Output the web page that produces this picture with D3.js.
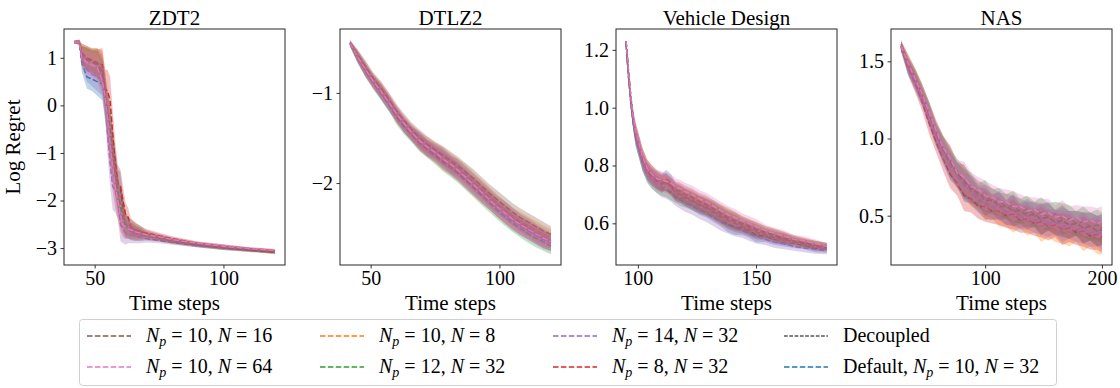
<!DOCTYPE html>
<html>
<head>
<meta charset="utf-8">
<script src="https://cdn.jsdelivr.net/npm/d3@7"></script>
<style>
  body { margin: 0; background: #fff; }
  svg { display: block; }
  text { font-family: "Liberation Serif", "Times New Roman", serif; fill: #000; }
</style>
</head>
<body>
<svg id="chart" width="1120" height="388"></svg>
<script>
// ---- series (drawing order) ----
const seriesLabels = ["Default, N_p=10, N=32", "N_p=10, N=8", "N_p=12, N=32", "N_p=8, N=32",
                      "N_p=14, N=32", "N_p=10, N=16", "N_p=10, N=64"];
const seriesColors = ["#1f77b4", "#ff7f0e", "#2ca02c", "#d62728", "#9467bd", "#8c564b", "#e377c2"];

// ---- ZDT2 ----
const zdt2Steps = [42,44,45,47,49,51,53,54,55,56,57,58,59,60,61,62,63,64,66,68,70,75,80,90,100,110,120];
const zdt2Band  = [0.03,0.05,0.2,0.25,0.25,0.3,0.35,0.4,0.45,0.5,0.5,0.45,0.4,0.35,0.3,0.25,0.2,0.18,0.15,0.12,0.08,0.06,0.05,0.04,0.04,0.03,0.03];
const zdt2Means = [
  [1.33,1.33,0.9,0.6,0.55,0.5,0.45,0.1,-0.2,-0.5,-1.0,-1.4,-1.75,-1.75,-2.2,-2.5,-2.6,-2.65,-2.7,-2.73,-2.76,-2.8,-2.86,-2.94,-3.0,-3.05,-3.09],
  [1.33,1.33,1.1,1.0,0.95,0.9,0.8,0.4,-0.3,-0.9,-1.3,-1.7,-2.0,-2.3,-2.45,-2.55,-2.6,-2.65,-2.7,-2.72,-2.75,-2.8,-2.86,-2.94,-3.0,-3.05,-3.1],
  [1.33,1.33,1.05,0.95,0.9,0.85,0.6,0.2,-0.3,-0.7,-1.1,-1.5,-1.9,-2.1,-2.3,-2.5,-2.55,-2.58,-2.62,-2.66,-2.7,-2.77,-2.83,-2.91,-2.97,-3.02,-3.06],
  [1.33,1.33,1.05,0.97,0.92,0.88,0.85,0.35,0.3,0.1,-0.6,-1.2,-1.65,-1.7,-2.0,-2.3,-2.35,-2.55,-2.62,-2.66,-2.68,-2.74,-2.8,-2.9,-2.96,-3.01,-3.05],
  [1.33,1.33,1.0,0.75,0.65,0.6,0.55,0.2,-0.6,-1.2,-1.7,-1.8,-2.0,-2.5,-2.6,-2.68,-2.7,-2.72,-2.75,-2.78,-2.8,-2.84,-2.88,-2.95,-3.0,-3.04,-3.08],
  [1.33,1.33,1.1,1.0,0.95,0.9,0.7,0.3,-0.1,-0.5,-1.0,-1.4,-1.8,-2.2,-2.4,-2.55,-2.6,-2.63,-2.67,-2.7,-2.73,-2.79,-2.85,-2.93,-2.99,-3.04,-3.09],
  [1.33,1.33,1.0,0.9,0.85,0.8,0.5,0.2,-0.3,-0.8,-1.3,-1.7,-2.0,-2.3,-2.5,-2.55,-2.6,-2.62,-2.66,-2.69,-2.72,-2.76,-2.82,-2.9,-2.96,-3.01,-3.05]
];
const zdt2XTicks = [50, 100];
const zdt2YTicks = [1, 0, -1, -2, -3];

// ---- DTLZ2 ----
const dtlz2Steps = [42,45,48,51,54,57,60,63,66,69,72,75,78,81,84,87,90,93,96,99,102,105,108,111,114,117,120];
const dtlz2Band  = [0.03,0.06,0.07,0.07,0.08,0.08,0.08,0.08,0.08,0.09,0.09,0.09,0.1,0.1,0.1,0.1,0.1,0.1,0.1,0.1,0.1,0.1,0.1,0.1,0.1,0.1,0.09];
const dtlz2Means = [
  [-0.45,-0.61,-0.75,-0.86,-0.99,-1.12,-1.23,-1.36,-1.45,-1.52,-1.61,-1.65,-1.71,-1.79,-1.84,-1.92,-2.0,-2.08,-2.16,-2.24,-2.3,-2.37,-2.44,-2.49,-2.55,-2.6,-2.64],
  [-0.45,-0.58,-0.72,-0.86,-0.96,-1.08,-1.22,-1.33,-1.43,-1.52,-1.58,-1.64,-1.7,-1.77,-1.83,-1.9,-1.98,-2.06,-2.14,-2.22,-2.3,-2.37,-2.42,-2.47,-2.52,-2.57,-2.6],
  [-0.46,-0.61,-0.76,-0.89,-1.0,-1.12,-1.27,-1.38,-1.47,-1.56,-1.63,-1.7,-1.77,-1.83,-1.9,-1.98,-2.06,-2.14,-2.22,-2.3,-2.37,-2.44,-2.5,-2.56,-2.61,-2.65,-2.7],
  [-0.45,-0.6,-0.75,-0.88,-0.98,-1.1,-1.25,-1.36,-1.46,-1.55,-1.62,-1.68,-1.75,-1.81,-1.88,-1.96,-2.04,-2.12,-2.19,-2.27,-2.34,-2.41,-2.47,-2.52,-2.57,-2.62,-2.66],
  [-0.45,-0.6,-0.74,-0.88,-0.99,-1.11,-1.24,-1.35,-1.45,-1.54,-1.61,-1.67,-1.73,-1.8,-1.87,-1.95,-2.03,-2.11,-2.19,-2.27,-2.35,-2.42,-2.48,-2.53,-2.58,-2.63,-2.67],
  [-0.44,-0.58,-0.71,-0.84,-0.95,-1.07,-1.2,-1.31,-1.41,-1.5,-1.57,-1.63,-1.69,-1.75,-1.81,-1.88,-1.95,-2.03,-2.11,-2.18,-2.25,-2.32,-2.38,-2.43,-2.48,-2.53,-2.57],
  [-0.45,-0.6,-0.74,-0.87,-0.98,-1.1,-1.23,-1.34,-1.44,-1.53,-1.6,-1.66,-1.73,-1.79,-1.86,-1.94,-2.02,-2.1,-2.18,-2.26,-2.33,-2.4,-2.46,-2.51,-2.56,-2.61,-2.65]
];
const dtlz2XTicks = [50, 100];
const dtlz2YTicks = [-1, -2];

// ---- Vehicle Design ----
const vehicleSteps = [95,96,97,98,99,100,102,104,106,108,110,112,114,116,118,120,123,126,129,132,135,138,141,144,147,150,154,158,162,166,170,175,180];
const vehicleBand  = [0.005,0.015,0.02,0.025,0.03,0.03,0.03,0.03,0.03,0.03,0.03,0.03,0.03,0.03,0.03,0.03,0.03,0.03,0.03,0.03,0.03,0.03,0.03,0.025,0.025,0.025,0.02,0.02,0.02,0.015,0.015,0.015,0.012];
const vehicleMeans = [
  [1.23,1.12,1.02,0.95,0.9,0.87,0.81,0.78,0.76,0.75,0.74,0.755,0.74,0.71,0.7,0.69,0.675,0.66,0.65,0.635,0.62,0.6,0.59,0.585,0.575,0.56,0.555,0.545,0.54,0.53,0.525,0.515,0.51],
  [1.23,1.13,1.04,0.97,0.92,0.89,0.83,0.79,0.77,0.75,0.74,0.735,0.725,0.71,0.705,0.695,0.685,0.67,0.66,0.65,0.635,0.625,0.61,0.6,0.59,0.58,0.57,0.56,0.55,0.54,0.535,0.525,0.52],
  [1.22,1.11,1.02,0.95,0.9,0.87,0.81,0.77,0.75,0.735,0.725,0.72,0.71,0.7,0.69,0.685,0.675,0.665,0.655,0.645,0.63,0.615,0.605,0.595,0.585,0.575,0.565,0.555,0.545,0.54,0.53,0.525,0.52],
  [1.23,1.12,1.03,0.96,0.91,0.88,0.82,0.78,0.76,0.745,0.735,0.745,0.725,0.705,0.7,0.69,0.68,0.665,0.655,0.64,0.625,0.61,0.6,0.59,0.58,0.57,0.56,0.55,0.545,0.535,0.53,0.52,0.515],
  [1.22,1.11,1.02,0.95,0.9,0.87,0.81,0.77,0.75,0.735,0.72,0.715,0.705,0.69,0.68,0.67,0.66,0.645,0.635,0.62,0.605,0.595,0.585,0.575,0.565,0.555,0.545,0.535,0.53,0.52,0.515,0.51,0.505],
  [1.23,1.13,1.04,0.97,0.92,0.89,0.83,0.79,0.77,0.755,0.745,0.74,0.73,0.715,0.71,0.7,0.69,0.675,0.665,0.65,0.635,0.62,0.61,0.6,0.59,0.58,0.57,0.56,0.55,0.545,0.535,0.525,0.52],
  [1.23,1.13,1.04,0.97,0.92,0.89,0.83,0.79,0.77,0.755,0.75,0.745,0.74,0.725,0.72,0.71,0.7,0.685,0.675,0.66,0.645,0.63,0.62,0.61,0.6,0.59,0.575,0.565,0.555,0.545,0.54,0.53,0.52]
];
const vehicleXTicks = [100, 150];
const vehicleYTicks = [0.6, 0.8, 1.0, 1.2];

// ---- NAS ----
const nasSteps = [28,34,40,46,52,58,64,70,76,82,88,94,100,106,112,118,124,130,136,142,148,154,160,166,172,178,184,190,196,200];
const nasBand  = [0.03,0.05,0.06,0.06,0.07,0.07,0.08,0.09,0.08,0.1,0.09,0.08,0.1,0.08,0.09,0.08,0.1,0.08,0.09,0.08,0.1,0.09,0.08,0.1,0.09,0.08,0.1,0.09,0.1,0.1];
const nasMeans = [
  [1.6,1.46,1.38,1.27,1.16,1.02,0.93,0.83,0.76,0.7,0.66,0.6,0.58,0.55,0.57,0.52,0.54,0.5,0.52,0.5,0.47,0.5,0.45,0.46,0.44,0.45,0.42,0.43,0.4,0.41],
  [1.6,1.5,1.4,1.3,1.17,1.05,0.94,0.86,0.76,0.73,0.65,0.62,0.57,0.56,0.52,0.51,0.49,0.5,0.46,0.47,0.43,0.45,0.41,0.42,0.39,0.41,0.37,0.39,0.35,0.35],
  [1.6,1.48,1.39,1.29,1.17,1.03,0.94,0.84,0.79,0.71,0.69,0.63,0.63,0.59,0.59,0.56,0.56,0.53,0.54,0.51,0.52,0.49,0.51,0.48,0.48,0.45,0.46,0.43,0.44,0.42],
  [1.59,1.46,1.36,1.24,1.1,0.98,0.87,0.77,0.71,0.63,0.61,0.56,0.56,0.53,0.53,0.5,0.51,0.47,0.48,0.45,0.46,0.43,0.44,0.41,0.42,0.39,0.4,0.37,0.38,0.36],
  [1.6,1.47,1.37,1.27,1.14,1.02,0.91,0.82,0.77,0.69,0.67,0.61,0.6,0.56,0.56,0.52,0.53,0.49,0.5,0.47,0.48,0.45,0.46,0.43,0.44,0.41,0.42,0.39,0.4,0.38],
  [1.61,1.49,1.39,1.29,1.16,1.04,0.93,0.86,0.77,0.73,0.67,0.65,0.6,0.6,0.56,0.56,0.53,0.53,0.5,0.51,0.48,0.49,0.46,0.47,0.44,0.45,0.42,0.43,0.4,0.41],
  [1.6,1.49,1.39,1.29,1.17,1.05,0.94,0.87,0.78,0.75,0.69,0.67,0.63,0.62,0.59,0.59,0.56,0.56,0.53,0.54,0.51,0.52,0.49,0.5,0.47,0.49,0.46,0.47,0.45,0.46]
];
const nasXTicks = [100, 200];
const nasYTicks = [0.5, 1.0, 1.5];

// ---- legend (column-major, four columns of two) ----
const legendLabels = ["N_p=10, N=16", "N_p=10, N=64", "N_p=10, N=8", "N_p=12, N=32",
                      "N_p=14, N=32", "N_p=8, N=32", "Decoupled", "Default, N_p=10, N=32"];
const legendColors = ["#8c564b", "#e377c2", "#ff7f0e", "#2ca02c", "#9467bd", "#d62728", "#000000", "#1f77b4"];

const panels = [
  { title: "ZDT2", steps: zdt2Steps, band: zdt2Band, means: zdt2Means, xTicks: zdt2XTicks, yTicks: zdt2YTicks, yFmt: d3.format("d") },
  { title: "DTLZ2", steps: dtlz2Steps, band: dtlz2Band, means: dtlz2Means, xTicks: dtlz2XTicks, yTicks: dtlz2YTicks, yFmt: d3.format("d") },
  { title: "Vehicle Design", steps: vehicleSteps, band: vehicleBand, means: vehicleMeans, xTicks: vehicleXTicks, yTicks: vehicleYTicks, yFmt: d3.format(".1f") },
  { title: "NAS", steps: nasSteps, band: nasBand, means: nasMeans, xTicks: nasXTicks, yTicks: nasYTicks, yFmt: d3.format(".1f") }
];

const svg = d3.select("#chart");
const panelLefts = [64, 340, 616, 891];
const panelW = 221, panelTop = 29, panelH = 236;
const minus = s => s.replace("-", "\u2212");

// pad a [min,max] extent by 5% on both sides
function padded(lo, hi) {
  const p = (hi - lo) * 0.05;
  return [lo - p, hi + p];
}

panels.forEach((p, pi) => {
  const left = panelLefts[pi];
  const g = svg.append("g").attr("transform", `translate(${left},${panelTop})`);

  let lo = Infinity, hi = -Infinity;
  p.means.forEach(m => m.forEach((v, i) => {
    lo = Math.min(lo, v - p.band[i]);
    hi = Math.max(hi, v + p.band[i]);
  }));
  const x = d3.scaleLinear().domain(padded(d3.min(p.steps), d3.max(p.steps))).range([0, panelW]);
  const y = d3.scaleLinear().domain(padded(lo, hi)).range([panelH, 0]);

  const clipId = "clip" + pi;
  g.append("clipPath").attr("id", clipId).append("rect").attr("width", panelW).attr("height", panelH);
  const plot = g.append("g").attr("clip-path", `url(#${clipId})`);

  p.means.forEach((m, si) => {
    const rows = p.steps.map((s, i) => ({ s, v: m[i], b: p.band[i] }));
    const area = d3.area().x(d => x(d.s)).y0(d => y(d.v - d.b)).y1(d => y(d.v + d.b));
    const line = d3.line().x(d => x(d.s)).y(d => y(d.v));
    plot.append("path").datum(rows).attr("d", area)
      .attr("fill", seriesColors[si]).attr("fill-opacity", 0.3).attr("stroke", "none");
    plot.append("path").datum(rows).attr("d", line)
      .attr("fill", "none").attr("stroke", seriesColors[si]).attr("stroke-width", 1.5)
      .attr("stroke-dasharray", "5.5,2.4");
  });

  // axes
  const xAxis = d3.axisBottom(x).tickValues(p.xTicks).tickSize(3.5).tickPadding(2.5).tickSizeOuter(0);
  const yAxis = d3.axisLeft(y).tickValues(p.yTicks).tickSize(3.5).tickPadding(3.5).tickSizeOuter(0)
    .tickFormat(v => minus(p.yFmt(v)));
  const gx = g.append("g").attr("transform", `translate(0,${panelH})`).call(xAxis);
  const gy = g.append("g").call(yAxis);
  [gx, gy].forEach(a => {
    a.select(".domain").remove();
    a.selectAll("line").attr("stroke", "#000").attr("stroke-width", 0.8);
    a.selectAll("text").attr("font-size", 20).attr("font-family", "Liberation Serif").attr("fill", "#000");
  });

  g.append("rect").attr("width", panelW).attr("height", panelH)
    .attr("fill", "none").attr("stroke", "#262626").attr("stroke-width", 1);

  g.append("text").attr("x", panelW / 2).attr("y", -4).attr("text-anchor", "middle")
    .attr("font-size", 21).text(p.title);
  g.append("text").attr("x", panelW / 2).attr("y", panelH + 45).attr("text-anchor", "middle")
    .attr("font-size", 21).text("Time steps");
  if (pi === 0) {
    g.append("text").attr("transform", `translate(${-44},${panelH / 2}) rotate(-90)`)
      .attr("text-anchor", "middle").attr("font-size", 21).text("Log Regret");
  }
});

// ---- legend ----
function mathLabel(t, label) {
  const parts = label.split(/(N_p|N|=)/).filter(s => s.length);
  let shifted = false;
  parts.forEach(part => {
    const ts = t.append("tspan");
    const dy = shifted ? -4 : 0;
    shifted = false;
    if (part === "N_p") {
      ts.attr("font-style", "italic").attr("dy", dy).text("N");
      t.append("tspan").attr("font-style", "italic").attr("font-size", 14).attr("dy", 4).text("p");
      shifted = true;
    } else if (part === "N") {
      ts.attr("font-style", "italic").attr("dy", dy).text("N");
    } else if (part === "=") {
      ts.attr("dy", dy).text(" = ");
    } else {
      ts.attr("dy", dy).text(part);
    }
  });
}

const legend = svg.append("g");
legend.append("rect").attr("x", 79.5).attr("y", 319.5).attr("width", 977).attr("height", 66)
  .attr("rx", 3).attr("fill", "#fff").attr("stroke", "#d0d0d0").attr("stroke-width", 1);
const colX = [87, 320, 553, 784];
const rowY = [336, 367];
legendLabels.forEach((lab, i) => {
  const c = Math.floor(i / 2), r = i % 2;
  const lx = colX[c], ly = rowY[r];
  const isBlack = legendColors[i] === "#000000";
  legend.append("line").attr("x1", lx).attr("x2", lx + 44).attr("y1", ly).attr("y2", ly)
    .attr("stroke", legendColors[i]).attr("stroke-width", isBlack ? 1 : 1.5)
    .attr("stroke-dasharray", isBlack ? "3.7,1.6" : "5.5,2.4");
  const t = legend.append("text").attr("x", lx + 59).attr("y", ly + 6).attr("font-size", 20);
  mathLabel(t, lab);
});
</script>
</body>
</html>
